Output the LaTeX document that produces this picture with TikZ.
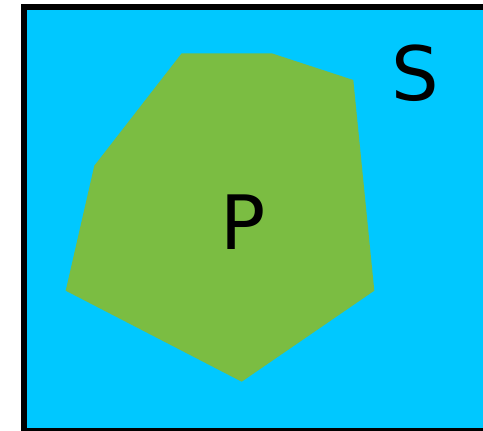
\documentclass[tikz,border=0pt]{standalone}
\usepackage{fontspec}
\setmainfont{DejaVu Sans}
\definecolor{skyb}{RGB}{0,200,255}
\definecolor{leafg}{RGB}{123,189,66}
\tikzset{lbl/.style={inner sep=0pt, font=\fontsize{75}{75}\selectfont, text=black}}
\begin{document}
\begin{tikzpicture}[x=1pt,y=-1pt]
\useasboundingbox (0,0) rectangle (483,431);
\begin{scope}
\clip (0,0) rectangle (483,431);
\draw[line width=6pt, fill=skyb] (24,6.5) rectangle (500,431);
\end{scope}
\fill[leafg] (181.7,53.3) -- (271.7,53.3) -- (353.3,80) -- (374.3,290.7) -- (241.7,381.7) -- (65.7,290.7) -- (94.3,165.7) -- cycle;
\node[lbl] (P) at (243,222.5) {P};
\node[lbl] (S) at (415,73) {S};
\end{tikzpicture}
\end{document}
